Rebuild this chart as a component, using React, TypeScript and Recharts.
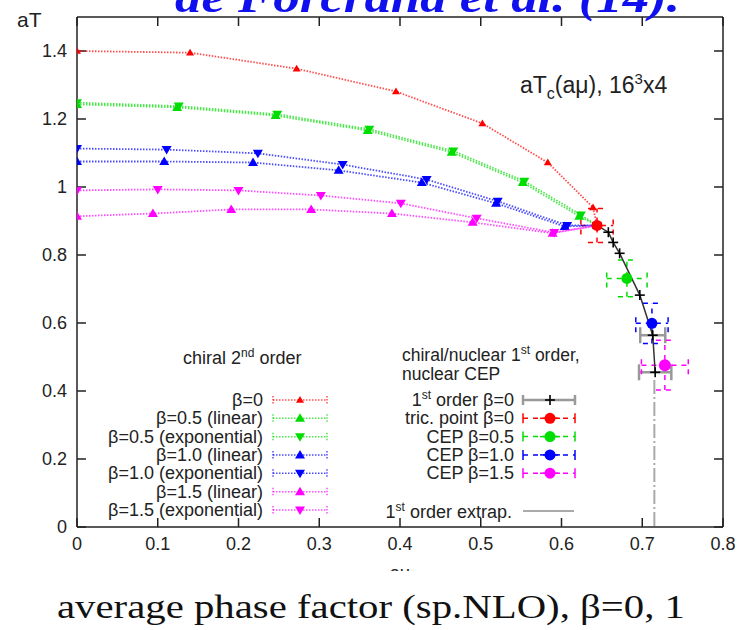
import React from "react";
import { ScatterChart, Scatter, XAxis, YAxis, ErrorBar } from "recharts";

const FONT = "'Liberation Sans', Arial, sans-serif";

const muTicks = [0, 0.1, 0.2, 0.3, 0.4, 0.5, 0.6, 0.7, 0.8];
const tTicks = [0, 0.2, 0.4, 0.6, 0.8, 1, 1.2, 1.4];

// chiral 2nd order boundaries aTc(amu), all ending at the tricritical point
const muB0 = [0, 0.14, 0.272, 0.395, 0.502, 0.583, 0.639, 0.644];
const tB0 = [1.4, 1.395, 1.348, 1.281, 1.187, 1.072, 0.94, 0.887];
const muB05lin = [0, 0.124, 0.246, 0.36, 0.464, 0.552, 0.622, 0.644];
const tB05lin = [1.243, 1.234, 1.21, 1.166, 1.102, 1.013, 0.914, 0.887];
const muB05exp = [0, 0.126, 0.248, 0.362, 0.466, 0.554, 0.624, 0.644];
const tB05exp = [1.248, 1.238, 1.214, 1.17, 1.106, 1.017, 0.918, 0.887];
const muB10lin = [0, 0.108, 0.218, 0.324, 0.427, 0.519, 0.604, 0.644];
const tB10lin = [1.075, 1.075, 1.072, 1.049, 1.013, 0.952, 0.884, 0.887];
const muB10exp = [0, 0.111, 0.224, 0.329, 0.433, 0.521, 0.607, 0.644];
const tB10exp = [1.113, 1.11, 1.099, 1.066, 1.022, 0.958, 0.887, 0.887];
const muB15lin = [0, 0.094, 0.191, 0.29, 0.39, 0.49, 0.589, 0.644];
const tB15lin = [0.914, 0.922, 0.934, 0.934, 0.922, 0.896, 0.864, 0.887];
const muB15exp = [0, 0.1, 0.2, 0.302, 0.401, 0.495, 0.591, 0.644];
const tB15exp = [0.99, 0.993, 0.99, 0.975, 0.952, 0.908, 0.866, 0.887];

// 1st order line beta=0
const muFirst = [0.644, 0.658, 0.664, 0.672, 0.697, 0.713, 0.716];
const tFirst = [0.887, 0.867, 0.837, 0.805, 0.682, 0.564, 0.455];
const muFirstErr = [0, 0, 0, 0, 0, 0.0155, 0.02];

// tricritical point and CEPs
const cepNames = ["tric. point β=0", "CEP β=0.5", "CEP β=1.0", "CEP β=1.5"];
const cepMu = [0.644, 0.681, 0.712, 0.728];
const cepT = [0.887, 0.731, 0.599, 0.476];
const cepMuErr = [0.02, 0.025, 0.02, 0.029];
const cepTErr = [0.05, 0.054, 0.059, 0.073];

// 1st order extrapolation
const muExtrap = [0.715, 0.715];
const tExtrap = [0.432, 0];

const RED = "#ff0000";
const GREEN = "#00dd00";
const BLUE = "#0000ff";
const MAGENTA = "#ff00ff";
const cepColors = [RED, GREEN, BLUE, MAGENTA];

const pts = (xs: number[], ys: number[]) => xs.map((x, i) => ({ x, y: ys[i] }));

const triUp = (color: string, s: number) => (p: any) => (
  <path d={`M${p.cx},${p.cy - s} L${p.cx + s},${p.cy + s * 0.7} L${p.cx - s},${p.cy + s * 0.7} Z`} fill={color} />
);
const triDown = (color: string, s: number) => (p: any) => (
  <path d={`M${p.cx},${p.cy + s} L${p.cx + s},${p.cy - s * 0.7} L${p.cx - s},${p.cy - s * 0.7} Z`} fill={color} />
);
const dot = (color: string, r: number) => (p: any) => <circle cx={p.cx} cy={p.cy} r={r} fill={color} />;
const plus = (p: any) => (
  <g stroke="#000" strokeWidth={1.6}>
    <line x1={p.cx - 5} x2={p.cx + 5} y1={p.cy} y2={p.cy} />
    <line x1={p.cx} x2={p.cx} y1={p.cy - 5} y2={p.cy + 5} />
  </g>
);
const none = () => <g />;

const curves = [
  { label: "β=0", color: RED, mu: muB0, t: tB0, up: true, s: 4 },
  { label: "β=0.5 (linear)", color: GREEN, mu: muB05lin, t: tB05lin, up: true, s: 5 },
  { label: "β=0.5 (exponential)", color: GREEN, mu: muB05exp, t: tB05exp, up: false, s: 5 },
  { label: "β=1.0 (linear)", color: BLUE, mu: muB10lin, t: tB10lin, up: true, s: 5 },
  { label: "β=1.0 (exponential)", color: BLUE, mu: muB10exp, t: tB10exp, up: false, s: 5 },
  { label: "β=1.5 (linear)", color: MAGENTA, mu: muB15lin, t: tB15lin, up: true, s: 5 },
  { label: "β=1.5 (exponential)", color: MAGENTA, mu: muB15exp, t: tB15exp, up: false, s: 5 },
];

const tickStyle = { fontSize: 18, fill: "#222", fontFamily: FONT };
const frame = { stroke: "#222", strokeWidth: 1.5 };

function Overlay() {
  const leftRow = (i: number) => 400 + i * 18.33;
  const rightRow = (i: number) => 400 + i * 18.3;
  return (
    <svg width={751} height={630} style={{ position: "absolute", left: 0, top: 0, pointerEvents: "none" }} fontFamily={FONT}>
      <text x={175} y={12} fontFamily="'Liberation Serif', serif" fontStyle="italic" fontWeight="bold" fontSize={44} fill="#1010ee" textLength={505} lengthAdjust="spacingAndGlyphs">
        de Forcrand et al. (14).
      </text>
      <text x={17} y={27} fontSize={21} fill="#222">aT</text>
      <text x={520} y={93} fontSize={23} fill="#222">
        aT<tspan fontSize={16} dy={6}>c</tspan>
        <tspan dy={-6}>(aμ), 16</tspan>
        <tspan fontSize={15} dy={-9}>3</tspan>
        <tspan dy={9}>x4</tspan>
      </text>

      <text x={183} y={364} fontSize={18} fill="#222">
        chiral 2<tspan fontSize={12} dy={-7}>nd</tspan>
        <tspan dy={7}> order</tspan>
      </text>
      {curves.map((c, i) => {
        const y = leftRow(i);
        const mk = c.up
          ? `M300,${y - c.s} L${300 + c.s},${y + c.s * 0.7} L${300 - c.s},${y + c.s * 0.7} Z`
          : `M300,${y + c.s} L${300 + c.s},${y - c.s * 0.7} L${300 - c.s},${y - c.s * 0.7} Z`;
        return (
          <g key={c.label}>
            <text x={263} y={y + 6} fontSize={18} fill="#222" textAnchor="end">{c.label}</text>
            <g stroke={c.color} strokeWidth={1.5} strokeOpacity={0.7} strokeDasharray="1.5 1.5">
              <line x1={273} x2={327} y1={y} y2={y} />
              <line x1={273} x2={273} y1={y - 4} y2={y + 4} />
              <line x1={327} x2={327} y1={y - 4} y2={y + 4} />
            </g>
            <path d={mk} fill={c.color} />
          </g>
        );
      })}

      <text x={402} y={361} fontSize={17.5} fill="#222">
        chiral/nuclear 1<tspan fontSize={12} dy={-7}>st</tspan>
        <tspan dy={7}> order,</tspan>
      </text>
      <text x={402} y={380} fontSize={17.5} fill="#222">nuclear CEP</text>

      <text x={514} y={rightRow(0) + 6} fontSize={18} fill="#222" textAnchor="end">
        1<tspan fontSize={12} dy={-7}>st</tspan>
        <tspan dy={7}> order β=0</tspan>
      </text>
      <g stroke="#999" strokeWidth={2.5}>
        <line x1={523} x2={575} y1={rightRow(0)} y2={rightRow(0)} />
        <line x1={523} x2={523} y1={rightRow(0) - 5} y2={rightRow(0) + 5} />
        <line x1={575} x2={575} y1={rightRow(0) - 5} y2={rightRow(0) + 5} />
      </g>
      <g stroke="#000" strokeWidth={1.6}>
        <line x1={545} x2={555} y1={rightRow(0)} y2={rightRow(0)} />
        <line x1={550} x2={550} y1={rightRow(0) - 5} y2={rightRow(0) + 5} />
      </g>
      {cepNames.map((n, i) => {
        const y = rightRow(i + 1);
        const c = cepColors[i];
        return (
          <g key={n}>
            <text x={514} y={y + 6} fontSize={18} fill="#222" textAnchor="end">{n}</text>
            <g stroke={c} strokeWidth={1.5}>
              <line x1={523} x2={575} y1={y} y2={y} strokeDasharray="5 5" />
              <line x1={540} x2={560} y1={y} y2={y} />
              <line x1={523} x2={523} y1={y - 5} y2={y + 5} />
              <line x1={575} x2={575} y1={y - 5} y2={y + 5} />
            </g>
            <circle cx={550} cy={y} r={5.5} fill={c} />
          </g>
        );
      })}

      <text x={512} y={518} fontSize={18} fill="#222" textAnchor="end">
        1<tspan fontSize={12} dy={-7}>st</tspan>
        <tspan dy={7}> order extrap.</tspan>
      </text>
      <line x1={523} x2={574} y1={511} y2={511} stroke="#aaa" strokeWidth={2} />

      <text x={400} y={579} fontSize={18} fill="#222" textAnchor="middle">aμ</text>
      <rect x={360} y={571} width={80} height={25} fill="#fff" />

      <text x={57} y={618} fontFamily="'Liberation Serif', serif" fontSize={34} fill="#111" textLength={628} lengthAdjust="spacingAndGlyphs">
        average phase factor (sp.NLO), β=0, 1
      </text>
    </svg>
  );
}

export default function App() {
  return (
    <div style={{ position: "absolute", left: 0, top: 0, width: 751, height: 630, background: "#fff" }}>
      <ScatterChart width={751} height={630} margin={{ top: 16, right: 27, bottom: 102, left: 76 }}>
        <XAxis type="number" dataKey="x" domain={[0, 0.8]} ticks={muTicks} interval={0} height={1}
          tickSize={-9} tickMargin={19} tick={tickStyle} axisLine={frame} tickLine={frame} allowDataOverflow />
        <XAxis xAxisId="top" orientation="top" type="number" dataKey="x" domain={[0, 0.8]} ticks={muTicks} interval={0} height={1}
          tickSize={-9} tickFormatter={() => ""} axisLine={frame} tickLine={frame} allowDataOverflow />
        <YAxis type="number" dataKey="y" domain={[0, 1.5]} ticks={tTicks} interval={0} width={1}
          tickSize={-9} tickMargin={19} tick={tickStyle} axisLine={frame} tickLine={frame} allowDataOverflow />
        <YAxis yAxisId="right" orientation="right" type="number" dataKey="y" domain={[0, 1.5]} ticks={tTicks} interval={0} width={1}
          tickSize={-9} tickFormatter={() => ""} axisLine={frame} tickLine={frame} allowDataOverflow />

        <Scatter data={pts(muExtrap, tExtrap)} shape={none} isAnimationActive={false}
          line={{ stroke: "#aaa", strokeWidth: 2, strokeDasharray: "14 3 2 3" }} />

        {curves.map((c) => (
          <Scatter key={c.label} name={c.label} data={pts(c.mu, c.t)} isAnimationActive={false}
            shape={c.up ? triUp(c.color, c.s) : triDown(c.color, c.s)}
            line={{ stroke: c.color, strokeWidth: 1.8, strokeOpacity: 0.7, strokeDasharray: "1.5 1.5" }} />
        ))}

        <Scatter name="1st order β=0" data={muFirst.map((x, i) => ({ x, y: tFirst[i], ex: muFirstErr[i] }))}
          shape={plus} isAnimationActive={false} line={{ stroke: "#333", strokeWidth: 1.5 }}>
          <ErrorBar dataKey="ex" direction="x" width={8} stroke="#999" strokeWidth={2.5} />
        </Scatter>

        {cepNames.map((n, i) => (
          <Scatter key={n} name={n} data={[{ x: cepMu[i], y: cepT[i], ex: cepMuErr[i], ey: cepTErr[i] }]}
            shape={dot(cepColors[i], i === 3 ? 6 : 5.5)} isAnimationActive={false}>
            <ErrorBar dataKey="ex" direction="x" width={9} stroke={cepColors[i]} strokeWidth={1.5} strokeDasharray="5 5" />
            <ErrorBar dataKey="ey" direction="y" width={9} stroke={cepColors[i]} strokeWidth={1.5} strokeDasharray="5 5" />
          </Scatter>
        ))}
      </ScatterChart>
      <Overlay />
    </div>
  );
}
